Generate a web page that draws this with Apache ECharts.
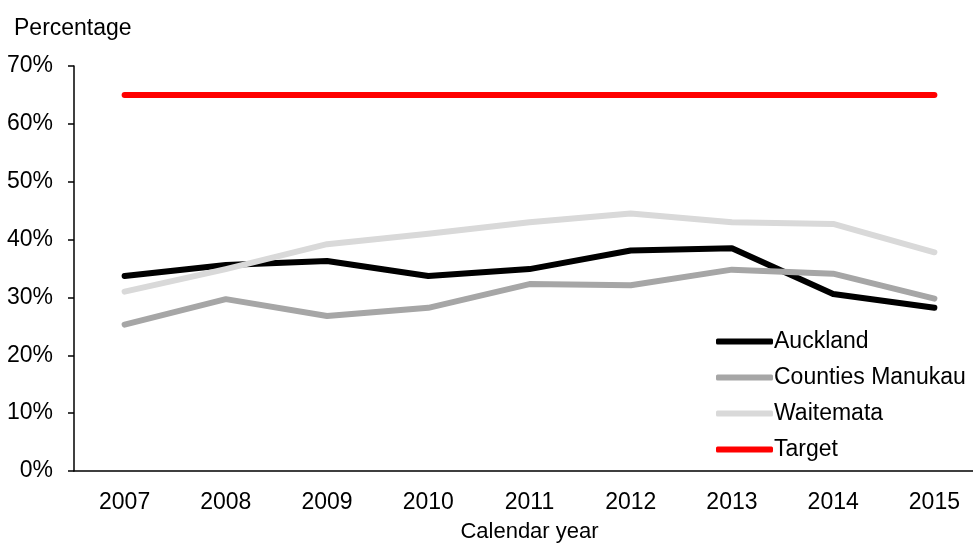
<!DOCTYPE html>
<html>
<head>
<meta charset="utf-8">
<script src="https://cdn.jsdelivr.net/npm/echarts@6/dist/echarts.min.js"></script>
<style>
  html, body { margin: 0; padding: 0; background: #fff; }
  #chart { width: 973px; height: 546px; }
</style>
</head>
<body>
<div id="chart"></div>
<script>
// Calendar years on the x axis
const years = ['2007', '2008', '2009', '2010', '2011', '2012', '2013', '2014', '2015'];

// Percentages per district
const auckland = [33.7, 35.6, 36.3, 33.7, 34.9, 38.1, 38.5, 30.6, 28.2];
const countiesManukau = [25.3, 29.7, 26.8, 28.2, 32.3, 32.1, 34.8, 34.1, 29.8];
const waitemata = [31.0, 34.9, 39.2, 41.0, 43.0, 44.5, 43.0, 42.7, 37.8];
const target = [65, 65, 65, 65, 65, 65, 65, 65, 65];

// Y axis ticks
const yMin = 0, yMax = 70, yStep = 10;

const font = 'Liberation Sans, Arial, sans-serif';
const fs = 23;

const chart = echarts.init(document.getElementById('chart'), null, { renderer: 'canvas' });

function lineSeries(name, data, color) {
  return {
    name: name,
    type: 'line',
    data: data,
    symbol: 'none',
    smooth: false,
    lineStyle: { color: color, width: 6, cap: 'round', join: 'round' },
    itemStyle: { color: color },
    emphasis: { disabled: true },
    animation: false
  };
}

chart.setOption({
  animation: false,
  backgroundColor: '#ffffff',
  title: {
    text: 'Percentage',
    left: 9,
    top: 12,
    textStyle: { fontFamily: font, fontSize: fs, fontWeight: 'normal', color: '#000' }
  },
  // the plot runs a little past the right edge of the canvas
  grid: { left: 74, width: 911, top: 66, bottom: 75, outerBoundsMode: 'none', containLabel: false },
  legend: {
    orient: 'vertical',
    left: 716,
    top: 330,
    padding: 0,
    itemWidth: 57,
    itemHeight: 6,
    itemGap: 13,
    icon: 'roundRect',
    textStyle: { fontFamily: font, fontSize: fs, color: '#000', lineHeight: 22, padding: [0, 0, 0, -4] },
    data: ['Auckland', 'Counties Manukau', 'Waitemata', 'Target']
  },
  xAxis: {
    type: 'category',
    data: years,
    boundaryGap: true,
    name: 'Calendar year',
    nameLocation: 'middle',
    nameGap: 50,
    nameTextStyle: { fontFamily: font, fontSize: fs - 1, color: '#000' },
    axisLine: { lineStyle: { color: '#000', width: 1.5 } },
    axisTick: { show: false },
    axisLabel: { fontFamily: font, fontSize: fs, color: '#000', margin: 20 },
    splitLine: { show: false }
  },
  yAxis: {
    type: 'value',
    min: yMin,
    max: yMax,
    interval: yStep,
    axisLine: { show: true, lineStyle: { color: '#000', width: 1.5 } },
    axisTick: { show: true, inside: false, length: 6, lineStyle: { color: '#000', width: 1.5 } },
    axisLabel: { fontFamily: font, fontSize: fs, color: '#000', margin: 21, formatter: '{value}%' },
    splitLine: { show: false }
  },
  series: [
    lineSeries('Auckland', auckland, '#000000'),
    lineSeries('Counties Manukau', countiesManukau, '#a6a6a6'),
    lineSeries('Waitemata', waitemata, '#d9d9d9'),
    lineSeries('Target', target, '#ff0000')
  ]
});
</script>
</body>
</html>
